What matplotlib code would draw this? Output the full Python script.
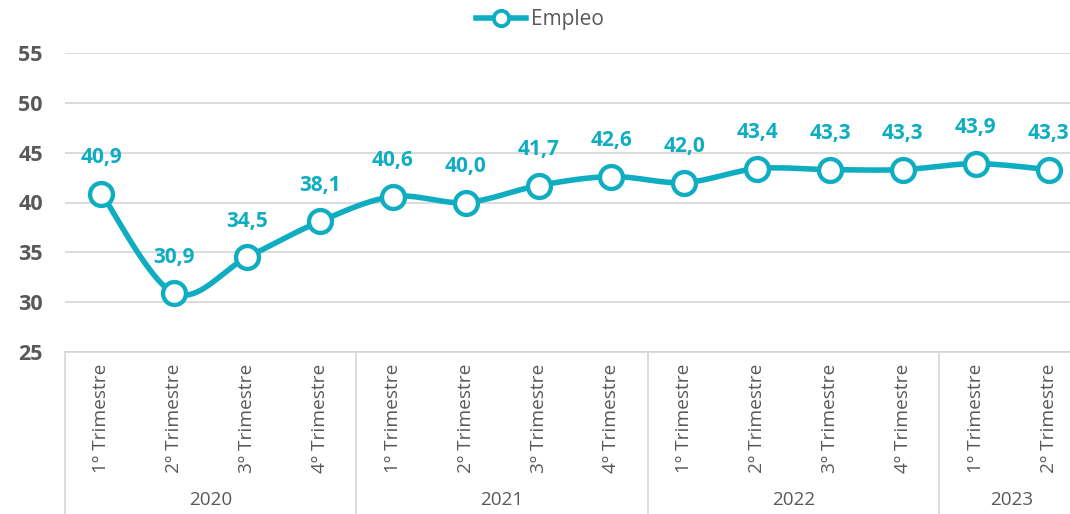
import numpy as np
import matplotlib
matplotlib.use("Agg")
import matplotlib.pyplot as plt
import matplotlib.transforms as mtransforms

# data
years = ["2020", "2021", "2022", "2023"]
quarters_per_year = [4, 4, 4, 2]
quarter_labels = ["1º Trimestre", "2º Trimestre", "3º Trimestre", "4º Trimestre",
                  "1º Trimestre", "2º Trimestre", "3º Trimestre", "4º Trimestre",
                  "1º Trimestre", "2º Trimestre", "3º Trimestre", "4º Trimestre",
                  "1º Trimestre", "2º Trimestre"]
empleo = [40.9, 30.9, 34.5, 38.1, 40.6, 40.0, 41.7, 42.6, 42.0, 43.4, 43.3, 43.3, 43.9, 43.3]

teal = "#0FADC2"
gray = "#595959"
grid = "#D9D9D9"

plt.rcParams['font.family'] = ['Open Sans', 'DejaVu Sans']


def smooth(x, y, n=30):
    # Catmull-Rom style smoothing, like Excel's smoothed line
    x = np.asarray(x, float)
    y = np.asarray(y, float)
    px = np.concatenate([[x[0]], x, [x[-1]]])
    py = np.concatenate([[y[0]], y, [y[-1]]])
    xs, ys = [], []
    t = np.linspace(0, 1, n)
    for i in range(1, len(px) - 2):
        p0, p1, p2, p3 = (np.array([px[j], py[j]]) for j in (i - 1, i, i + 1, i + 2))
        c1 = p1 + (p2 - p0) / 6
        c2 = p2 - (p3 - p1) / 6
        b = ((1 - t) ** 3)[:, None] * p1 + (3 * (1 - t) ** 2 * t)[:, None] * c1 \
            + (3 * (1 - t) * t ** 2)[:, None] * c2 + (t ** 3)[:, None] * p2
        xs.append(b[:, 0])
        ys.append(b[:, 1])
    return np.concatenate(xs), np.concatenate(ys)


W, H = 1070, 514
fig = plt.figure(figsize=(W / 100, H / 100), dpi=100)
left, right, top, bottom = 65, 1085, 53, 352
ax = fig.add_axes([left / W, 1 - bottom / H, (right - left) / W, (bottom - top) / H])

x = np.arange(len(empleo))
sx, sy = smooth(x, empleo)
ax.plot(sx, sy, color=teal, lw=4, solid_capstyle='round', zorder=3)
ax.plot(x, empleo, linestyle='none', marker='o', markersize=16.5, markerfacecolor='white',
        markeredgecolor=teal, markeredgewidth=3.1, zorder=4)
# legend handle
ax.plot([], [], color=teal, lw=4, marker='o', markersize=11, markerfacecolor='white',
        markeredgecolor=teal, markeredgewidth=2.8, label="Empleo")

for xi, v in zip(x, empleo):
    ax.annotate(f"{v:.1f}".replace(".", ","), (xi, v), xytext=(0, 26), textcoords='offset points',
                ha='center', va='center', fontsize=15, fontweight='bold', color=teal)

ax.set_xlim(-0.5, len(empleo) - 0.5)
ax.set_ylim(25, 55)
ax.set_yticks(range(25, 56, 5))
ax.yaxis.grid(True, color=grid, lw=1.3)
ax.set_axisbelow(True)
for s in ['top', 'right', 'left']:
    ax.spines[s].set_visible(False)
ax.spines['bottom'].set_color(grid)
ax.spines['bottom'].set_linewidth(1.3)
ax.tick_params(axis='y', length=0, pad=16, labelsize=15.5, labelcolor=gray)
for lb in ax.get_yticklabels():
    lb.set_fontweight('bold')
ax.set_xticks([])

# two level category axis
trans = mtransforms.blended_transform_factory(ax.transData, fig.transFigure)
for xi, lab in zip(x, quarter_labels):
    ax.text(xi, 1 - 364 / H, lab, transform=trans, rotation=90, ha='center', va='top',
            fontsize=13.8, color=gray)
pos = -0.5
bounds = [pos]
for yr, n in zip(years, quarters_per_year):
    ax.text(pos + n / 2, 1 - 500 / H, yr, transform=trans, ha='center', va='center',
            fontsize=13.6, color=gray)
    pos += n
    bounds.append(pos)
for b in bounds:
    ax.plot([b, b], [1 - bottom / H, 0], transform=trans, color=grid, lw=1.3, clip_on=False)

fig.legend(loc='center', bbox_to_anchor=(540 / W, 1 - 20 / H), frameon=False,
           fontsize=15, handlelength=2.4, handletextpad=0.2, labelcolor=gray)

fig.savefig("out.png", dpi=100)
